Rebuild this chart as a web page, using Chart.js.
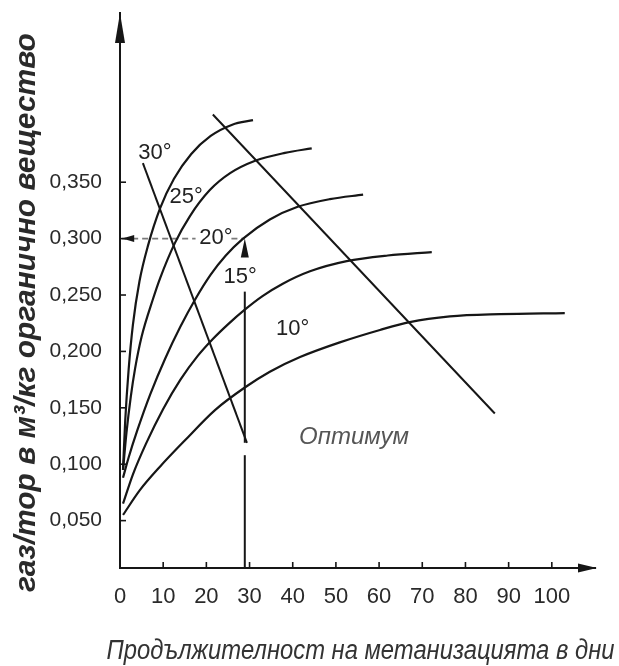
<!DOCTYPE html>
<html>
<head>
<meta charset="utf-8">
<script src="https://cdn.jsdelivr.net/npm/chart.js@4.4.0/dist/chart.umd.min.js"></script>
<style>
  html, body { margin: 0; padding: 0; background: #fff; }
  #wrap { width: 619px; height: 666px; }
</style>
</head>
<body>
<div id="wrap"><canvas id="chart" width="619" height="666"></canvas></div>
<script>
// values (days, m3 gas per kg organic matter)
const days30 = [0.7, 1.2, 2.0, 3.0, 4.5, 6.5, 9.3, 12.5, 16.5, 21.0, 26.0, 30.8];
const gas30 = [0.095, 0.138, 0.184, 0.224, 0.262, 0.294, 0.327, 0.353, 0.375, 0.391, 0.401, 0.405];

const days25 = [0.7, 1.5, 2.5, 3.5, 5.0, 7.6, 9.3, 12.7, 16.2, 20.8, 25.5, 31.3, 38.2, 44.4];
const gas25 = [0.095, 0.128, 0.160, 0.185, 0.213, 0.246, 0.265, 0.296, 0.320, 0.343, 0.358, 0.369, 0.376, 0.380];

const days20 = [0.7, 2.0, 4.0, 7.0, 10.5, 14.0, 17.4, 21.0, 24.5, 28.5, 34.7, 41.0, 48.6, 56.3];
const gas20 = [0.088, 0.106, 0.130, 0.162, 0.194, 0.222, 0.246, 0.268, 0.285, 0.300, 0.317, 0.328, 0.335, 0.339];

const days15 = [0.7, 3.0, 6.0, 10.0, 14.0, 18.0, 21.5, 25.0, 28.9, 33.0, 37.7, 44.0, 52.5, 62.0, 72.2];
const gas15 = [0.065, 0.091, 0.118, 0.149, 0.175, 0.196, 0.211, 0.224, 0.237, 0.249, 0.260, 0.271, 0.280, 0.285, 0.288];

const days10 = [0.7, 4.6, 9.3, 15.0, 22.0, 28.9, 34.7, 41.7, 50.9, 60.2, 67.1, 76.4, 88.0, 103.0];
const gas10 = [0.055, 0.077, 0.098, 0.121, 0.148, 0.168, 0.182, 0.195, 0.208, 0.219, 0.226, 0.231, 0.233, 0.234];

// the two straight "optimum" lines
const optimumDays = [21.5, 86.8];
const optimumGas = [0.410, 0.145];
const optimum30Days = [5.3, 29.4];
const optimum30Gas = [0.367, 0.119];

// reading example: 30 days -> 0,300 at 20°
const readDay = 28.9;
const readGas = 0.300;
const upLineLow = [0.008, 0.108];
const upLineHigh = [0.119, 0.253];
const dashLeft = [0.5, 17.5];
const dashRight = [25.8, readDay];

const dayTicks = [0, 10, 20, 30, 40, 50, 60, 70, 80, 90, 100];
const gasTicks = [0.05, 0.10, 0.15, 0.20, 0.25, 0.30, 0.35];

const curveLabels = ["30°", "25°", "20°", "15°", "10°"];
const labelDays = [8.1, 15.3, 22.2, 27.8, 40.0];
const labelGas = [0.376, 0.337, 0.301, 0.266, 0.220];
const optimumText = "Оптимум";
const optimumTextAt = [54.2, 0.124];

const xTitle = "Продължителност на метанизацията в дни";
const yTitle = "газ/тор в м³/кг органично вещество";

const FONT = "'Liberation Sans', Arial, Helvetica, sans-serif";
const INK = "#161616";

const toPoints = (xs, ys) => xs.map((x, i) => ({ x: x, y: ys[i] }));

const curve = (xs, ys) => ({
  data: toPoints(xs, ys),
  borderColor: INK,
  borderWidth: 2.2,
  pointRadius: 0,
  cubicInterpolationMode: "monotone",
  fill: false,
});

const straight = (pts, extra) => Object.assign({
  data: pts,
  borderColor: INK,
  borderWidth: 2,
  pointRadius: 0,
  tension: 0,
  fill: false,
}, extra || {});

const arrowHead = (ctx, tx, ty, dir, len, half) => {
  ctx.beginPath();
  ctx.moveTo(tx, ty);
  if (dir === "up") {
    ctx.lineTo(tx - half, ty + len);
    ctx.lineTo(tx + half, ty + len);
  } else if (dir === "left") {
    ctx.lineTo(tx + len, ty - half);
    ctx.lineTo(tx + len, ty + half);
  } else {
    ctx.lineTo(tx - len, ty - half);
    ctx.lineTo(tx - len, ty + half);
  }
  ctx.closePath();
  ctx.fill();
};

// tick marks inside the axes, arrows, axis titles and the in-plot texts
const decorations = {
  id: "decorations",
  afterDatasetsDraw(chart) {
    const { ctx, chartArea } = chart;
    const x = chart.scales.x;
    const y = chart.scales.y;
    ctx.save();
    ctx.strokeStyle = INK;
    ctx.fillStyle = INK;
    ctx.lineWidth = 1.6;

    gasTicks.forEach((v) => {
      const py = y.getPixelForValue(v);
      ctx.beginPath();
      ctx.moveTo(chartArea.left, py);
      ctx.lineTo(chartArea.left + 6, py);
      ctx.stroke();
    });
    dayTicks.slice(1).forEach((v) => {
      const px = x.getPixelForValue(v);
      ctx.beginPath();
      ctx.moveTo(px, chartArea.bottom);
      ctx.lineTo(px, chartArea.bottom - 6);
      ctx.stroke();
    });

    arrowHead(ctx, chartArea.left, chartArea.top, "up", 30, 5);
    arrowHead(ctx, chartArea.right + 2, chartArea.bottom, "right", 19, 4.5);
    arrowHead(ctx, x.getPixelForValue(dashLeft[0]), y.getPixelForValue(readGas), "left", 12, 3.5);
    arrowHead(ctx, x.getPixelForValue(readDay), y.getPixelForValue(readGas), "up", 19, 4);

    ctx.textAlign = "center";
    ctx.textBaseline = "middle";
    ctx.fillStyle = "#222";
    ctx.font = "22px " + FONT;
    curveLabels.forEach((t, i) => {
      ctx.fillText(t, x.getPixelForValue(labelDays[i]), y.getPixelForValue(labelGas[i]));
    });

    ctx.fillStyle = "#555";
    ctx.font = "italic 24px " + FONT;
    ctx.fillText(optimumText, x.getPixelForValue(optimumTextAt[0]), y.getPixelForValue(optimumTextAt[1]));

    // x title: a little wider than the axis, narrow lettering as in the scan
    ctx.fillStyle = "#333";
    ctx.font = "italic 27px " + FONT;
    ctx.fillText(xTitle, (chartArea.left + chartArea.right) / 2 + 3, chartArea.bottom + 83, 508);

    // y title sits a little below the middle of the axis
    ctx.save();
    ctx.translate(chartArea.left - 93, (chartArea.top + chartArea.bottom) / 2 + 22);
    ctx.rotate(-Math.PI / 2);
    ctx.fillStyle = "#2a2a2a";
    ctx.font = "italic bold 30px " + FONT;
    ctx.fillText(yTitle, 0, 0);
    ctx.restore();

    ctx.restore();
  },
};

new Chart(document.getElementById("chart"), {
  type: "line",
  data: {
    datasets: [
      curve(days30, gas30),
      curve(days25, gas25),
      curve(days20, gas20),
      curve(days15, gas15),
      curve(days10, gas10),
      straight(toPoints(optimumDays, optimumGas)),
      straight(toPoints(optimum30Days, optimum30Gas)),
      straight([{ x: readDay, y: upLineLow[0] }, { x: readDay, y: upLineLow[1] }]),
      straight([{ x: readDay, y: upLineHigh[0] }, { x: readDay, y: upLineHigh[1] }]),
      straight([{ x: dashLeft[0], y: readGas }, { x: dashLeft[1], y: readGas }],
        { borderColor: "#7a7a7a", borderWidth: 1.8, borderDash: [6, 4] }),
      straight([{ x: dashRight[0], y: readGas }, { x: dashRight[1], y: readGas }],
        { borderColor: "#7a7a7a", borderWidth: 1.8, borderDash: [6, 4] }),
    ],
  },
  options: {
    responsive: false,
    animation: false,
    layout: { padding: { top: 13, right: 24, left: 0, bottom: 0 } },
    plugins: {
      legend: { display: false },
      tooltip: { enabled: false },
    },
    scales: {
      x: {
        type: "linear",
        min: 0,
        max: 110,
        afterBuildTicks: (s) => { s.ticks = dayTicks.map((v) => ({ value: v })); },
        afterFit: (s) => {
          s.height = 98;
          s.paddingLeft = 0;
          s.paddingRight = 0;
        },
        grid: { display: false, drawTicks: false },
        border: { display: true, color: INK, width: 2 },
        ticks: {
          color: "#2a2a2a",
          font: { family: FONT, size: 22 },
          padding: 16,
          maxRotation: 0,
          autoSkip: false,
        },
        title: { display: false },
      },
      y: {
        type: "linear",
        min: 0.008,
        max: 0.5,
        afterBuildTicks: (s) => { s.ticks = gasTicks.map((v) => ({ value: v })); },
        afterFit: (s) => {
          s.width = 120;
          s.paddingTop = 0;
          s.paddingBottom = 0;
        },
        grid: { display: false, drawTicks: false },
        border: { display: true, color: INK, width: 2 },
        ticks: {
          color: "#2a2a2a",
          font: { family: FONT, size: 21 },
          padding: 18,
          autoSkip: false,
          callback: (v) => Number(v).toFixed(3).replace(".", ","),
        },
        title: { display: false },
      },
    },
  },
  plugins: [decorations],
});
</script>
</body>
</html>
